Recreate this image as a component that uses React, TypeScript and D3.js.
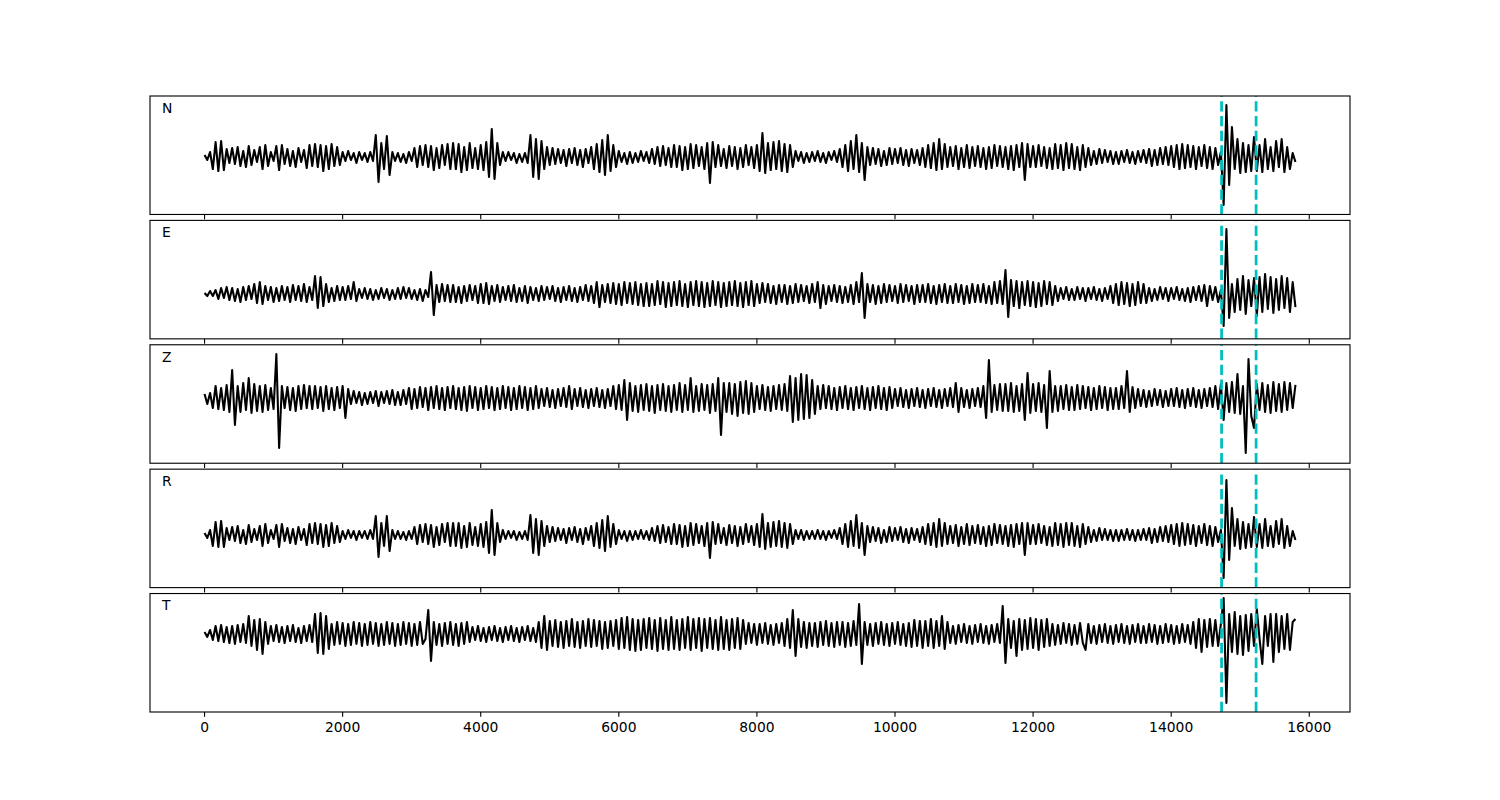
import React from "react";
import * as d3 from "d3";

// ---------------- data ----------------
const componentNames = ["N", "E", "Z", "R", "T"];
const sampleStep = 40; // samples between stored values
const pickTimes = [14730, 15230];
const tickValues = [0, 2000, 4000, 6000, 8000, 10000, 12000, 14000, 16000];
const xDomain = [-790, 16590];
const yHalfRange = 59.2;
const baselines = [-1.8, -14.4, 6, -6.6, 18.8];

const traceN = [
  2,-3,5,-12,15,-14,16,-13,8,-6,
  9,-7,10,-9,6,-10,11,-8,7,-5,
  10,-12,12,-9,5,-4,11,-13,12,-7,
  8,-9,6,-10,9,-5,7,-11,12,-9,
  13,-10,12,-14,11,-12,13,-9,10,-8,
  5,-4,6,-3,4,-6,5,-3,4,-5,
  5,-4,22,-25,14,-12,21,-18,5,-4,
  4,-5,3,-6,5,-4,9,-10,11,-8,
  12,-10,11,-13,9,-11,12,-8,13,-12,
  14,-12,13,-15,10,-13,14,-11,9,-12,
  12,-13,15,-20,28,-22,14,-8,5,-4,
  5,-3,4,-6,3,-5,4,-6,22,-20,
  18,-22,16,-12,10,-8,9,-7,8,-6,
  7,-9,8,-6,9,-8,7,-10,8,-6,
  10,-12,13,-15,17,-18,22,-14,12,-10,
  6,-5,4,-7,5,-6,4,-5,6,-4,
  5,-6,8,-7,10,-9,11,-8,9,-10,
  12,-10,11,-13,10,-12,13,-11,12,-9,
  10,-12,14,-26,15,-10,12,-9,8,-11,
  11,-9,10,-12,9,-10,12,-8,10,-11,
  12,-14,24,-16,14,-13,15,-12,16,-14,
  13,-15,12,-10,6,-4,5,-6,4,-5,
  5,-4,6,-5,4,-6,5,-3,6,-5,
  8,-10,12,-14,16,-12,22,-15,14,-23,
  10,-8,9,-7,8,-9,6,-8,9,-7,
  8,-6,9,-8,7,-9,8,-6,7,-8,
  9,-10,12,-11,14,-13,18,-12,13,-10,
  10,-9,11,-12,9,-10,12,-11,10,-9,
  11,-10,9,-12,10,-11,12,-9,11,-10,
  10,-12,11,-13,12,-10,14,-23,13,-10,
  11,-10,12,-9,10,-11,9,-12,13,-11,
  12,-13,14,-11,13,-12,10,-13,12,-10,
  9,-8,6,-7,8,-6,7,-5,6,-7,
  5,-7,6,-5,7,-6,5,-7,6,-5,
  7,-6,8,-9,7,-8,9,-7,10,-8,
  11,-10,12,-12,13,-11,12,-10,11,-12,
  10,-9,12,-11,10,-12,9,-8,5,-48,
  52,-28,30,-12,18,-16,14,-15,12,-14,
  20,-14,12,-15,18,-12,10,-14,16,-10,
  18,-15,10,-12,4,-5,
];

const traceE = [
  1,-2,3,-2,4,-5,6,-4,7,-6,
  6,-7,5,-8,7,-6,8,-5,10,-9,
  12,-10,8,-6,7,-8,6,-7,8,-6,
  7,-8,9,-6,8,-7,10,-8,7,-6,
  18,-14,17,-12,10,-8,6,-7,8,-6,
  7,-6,8,-5,12,-7,5,-4,6,-5,
  5,-6,4,-5,6,-4,5,-6,4,-5,
  6,-5,7,-4,6,-5,4,-6,5,-7,
  4,-3,22,-21,9,-8,10,-7,9,-8,
  9,-8,7,-9,8,-7,9,-6,8,-9,
  10,-9,11,-10,8,-7,9,-8,7,-6,
  8,-7,9,-8,6,-7,8,-9,7,-6,
  6,-7,8,-6,7,-5,8,-7,6,-8,
  7,-6,8,-7,6,-8,7,-6,9,-7,
  8,-9,12,-13,9,-8,10,-9,11,-10,
  10,-11,12,-9,11,-10,12,-11,10,-12,
  11,-12,10,-11,13,-10,12,-13,11,-12,
  12,-11,13,-12,10,-13,12,-11,13,-12,
  12,-13,11,-12,13,-11,12,-13,11,-12,
  12,-11,13,-12,11,-13,12,-11,13,-12,
  10,-9,11,-8,10,-9,8,-10,9,-8,
  9,-10,8,-9,10,-8,9,-7,8,-9,
  10,-8,12,-14,9,-10,8,-7,9,-8,
  8,-9,7,-8,9,-10,12,-8,21,-24,
  10,-8,9,-10,8,-9,10,-8,9,-7,
  8,-9,10,-8,9,-7,8,-10,9,-8,
  9,-8,10,-9,8,-10,9,-8,10,-9,
  8,-9,10,-8,9,-10,8,-9,10,-8,
  9,-8,10,-9,8,-10,12,-9,13,-10,
  24,-23,14,-12,13,-14,12,-11,13,-12,
  12,-13,11,-12,13,-10,12,-11,8,-7,
  6,-5,7,-6,5,-6,7,-5,6,-7,
  6,-5,7,-6,5,-7,6,-5,8,-9,
  10,-11,12,-10,11,-12,10,-11,12,-9,
  10,-9,6,-7,5,-6,7,-5,6,-7,
  6,-5,7,-6,5,-7,6,-8,7,-6,
  8,-7,9,-12,8,-6,7,-8,4,-32,
  65,-24,10,-18,15,-16,18,-20,14,-12,
  16,-22,17,-18,20,-15,17,-19,15,-16,
  18,-14,16,-18,12,-13,
];

const traceZ = [
  4,-6,5,-10,12,-11,10,-12,13,-14,
  28,-27,12,-14,15,-12,20,-15,14,-13,
  12,-14,13,-12,10,-11,44,-50,12,-10,
  11,-12,10,-13,12,-11,13,-10,12,-11,
  12,-10,11,-13,12,-11,10,-12,11,-10,
  12,-20,9,-6,7,-5,6,-7,5,-6,
  6,-5,7,-8,6,-5,7,-6,8,-7,
  6,-7,8,-6,10,-11,9,-10,11,-9,
  10,-12,11,-10,12,-11,10,-12,11,-10,
  12,-11,10,-12,11,-13,12,-10,11,-12,
  10,-11,12,-10,11,-12,10,-11,12,-10,
  11,-12,10,-11,12,-10,11,-12,10,-11,
  12,-10,9,-8,10,-9,8,-10,9,-8,
  10,-9,12,-11,9,-8,10,-9,8,-10,
  9,-8,10,-9,8,-10,9,-8,12,-11,
  13,-12,18,-22,15,-13,12,-14,13,-12,
  14,-13,12,-15,13,-12,14,-13,12,-14,
  13,-12,15,-14,13,-12,20,-14,12,-13,
  14,-12,13,-15,14,-13,20,-37,15,-14,
  15,-16,14,-18,16,-15,17,-16,15,-14,
  12,-11,13,-12,11,-13,12,-11,13,-12,
  14,-13,22,-24,20,-22,24,-21,23,-20,
  18,-16,12,-11,13,-10,12,-11,10,-12,
  11,-10,12,-11,10,-12,11,-10,12,-11,
  10,-12,11,-10,12,-11,10,-12,11,-10,
  9,-8,10,-9,8,-10,9,-8,10,-9,
  8,-10,9,-8,10,-9,8,-10,9,-8,
  10,-9,15,-14,10,-9,8,-10,9,-8,
  10,-9,12,-20,38,-14,13,-12,14,-13,
  14,-13,15,-14,12,-13,14,-22,25,-15,
  14,-13,15,-14,13,-30,27,-14,12,-13,
  12,-11,13,-12,11,-12,13,-11,12,-10,
  11,-12,10,-11,12,-10,11,-12,10,-11,
  10,-11,12,-10,27,-14,11,-10,9,-8,
  8,-9,7,-8,9,-7,8,-9,7,-8,
  9,-8,10,-9,8,-10,9,-8,10,-9,
  8,-10,9,-8,10,-9,12,-11,14,-22,
  15,-14,16,-15,24,-16,12,-55,39,-18,
  -30,14,-12,15,-14,13,-15,16,-13,14,
  -14,16,-12,15,-10,13,
];

const traceR = [
  2,-3,5,-11,13,-12,14,-12,7,-5,
  8,-6,9,-8,5,-9,10,-7,6,-5,
  9,-11,11,-8,5,-4,10,-12,11,-6,
  7,-8,6,-9,8,-5,6,-10,11,-8,
  12,-9,11,-12,10,-11,12,-8,9,-7,
  4,-4,5,-3,4,-5,4,-3,4,-4,
  5,-4,19,-22,12,-11,19,-16,5,-4,
  4,-4,3,-5,4,-4,8,-9,10,-7,
  11,-9,10,-12,8,-10,11,-7,12,-11,
  12,-11,12,-13,9,-12,12,-10,8,-11,
  11,-12,13,-18,25,-20,12,-7,5,-4,
  4,-3,4,-5,3,-4,4,-5,20,-18,
  16,-20,14,-11,9,-7,8,-6,7,-5,
  6,-8,7,-5,8,-7,6,-9,7,-5,
  9,-11,12,-13,15,-16,19,-12,11,-9,
  5,-4,4,-6,4,-5,4,-4,5,-4,
  4,-5,7,-6,9,-8,10,-7,8,-9,
  11,-9,10,-12,9,-11,12,-10,11,-8,
  9,-11,12,-23,13,-9,11,-8,7,-10,
  10,-8,9,-11,8,-9,11,-7,9,-10,
  11,-12,21,-14,12,-12,13,-11,14,-12,
  12,-13,11,-9,5,-4,5,-5,4,-4,
  4,-4,5,-4,4,-5,4,-3,5,-4,
  7,-9,11,-12,14,-11,20,-13,12,-20,
  9,-7,8,-6,7,-8,5,-7,8,-6,
  7,-5,8,-7,6,-8,7,-5,6,-7,
  8,-9,11,-10,12,-12,16,-11,12,-9,
  9,-8,10,-11,8,-9,11,-10,9,-8,
  10,-9,8,-11,9,-10,11,-8,10,-9,
  9,-11,10,-12,11,-9,12,-20,12,-9,
  10,-9,11,-8,9,-10,8,-11,12,-10,
  11,-12,12,-10,12,-11,9,-12,11,-9,
  8,-7,5,-6,7,-5,6,-5,5,-6,
  5,-6,5,-5,6,-5,5,-6,5,-5,
  6,-5,7,-8,6,-7,8,-6,9,-7,
  10,-9,11,-11,12,-10,11,-9,10,-11,
  9,-8,11,-10,9,-11,8,-7,5,-43,
  55,-25,27,-11,16,-14,13,-13,11,-12,
  18,-12,11,-13,16,-11,9,-12,14,-9,
  16,-13,9,-11,4,-5,
];

const traceT = [
  2,-3,4,-6,8,-7,9,-8,7,-9,
  8,-10,9,-8,10,-9,18,-12,14,-16,
  15,-20,12,-10,8,-7,9,-8,7,-9,
  8,-7,9,-8,6,-9,8,-7,9,-8,
  20,-19,21,-20,18,-15,10,-11,12,-10,
  11,-12,10,-11,12,-10,11,-12,10,-11,
  12,-10,11,-12,10,-11,12,-10,11,-12,
  10,-11,12,-10,11,-12,10,-11,12,-10,
  -5,24,-27,12,-11,10,-12,11,-10,12,
  -11,10,-12,11,-10,12,-8,7,-6,8,
  -7,6,-8,7,-6,8,-7,6,-8,7,
  -6,8,-7,6,-8,7,-6,8,-7,6,
  -8,12,-14,18,-16,13,-12,14,-13,12,
  -14,13,-12,15,-13,12,-14,13,-12,15,
  -13,14,-12,13,-15,12,-14,13,-12,14,
  -15,16,-14,17,-16,15,-17,14,-16,15,
  -14,16,-15,14,-17,16,-15,14,-16,17,
  -15,14,-16,15,-14,17,-16,15,-14,16,
  -17,15,-14,16,-15,14,-16,17,-15,14,
  -16,15,-14,16,-15,14,-10,11,-9,10,
  -11,10,-9,11,-10,9,-11,10,-9,11,
  -12,15,-14,24,-22,15,-13,12,-14,11,
  -12,11,-13,12,-11,13,-12,11,-13,12,
  -11,12,-13,11,-12,13,-11,30,-30,12,
  -11,10,-12,11,-10,12,-11,10,-12,11,
  -10,12,-11,10,-12,11,-13,14,-12,13,
  -14,13,-12,15,-14,13,-12,18,-15,12,
  -9,8,-10,9,-8,10,-9,8,-10,9,
  -8,10,-9,8,-10,9,-8,10,-9,28,
  -29,15,-14,13,-22,15,-16,14,-15,16,
  -14,15,-16,14,-13,15,-12,10,-11,9,
  -10,11,-9,10,-11,9,-10,11,-9,-16,
  10,-9,8,-10,9,-8,10,-9,8,-10,
  9,-8,10,-9,8,-10,9,-8,10,-9,
  8,-9,10,-8,9,-10,8,-9,10,-8,
  9,-10,8,-9,10,-8,9,-10,12,-14,
  15,-18,14,-13,15,-12,14,-12,10,36,
  -69,20,-18,22,-20,18,-21,19,-17,20,
  -12,25,-5,-30,18,-12,20,-28,20,-18,
  18,-15,20,-16,12,15,
];

const traces = [traceN, traceE, traceZ, traceR, traceT];

// ---------------- layout ----------------
const W = 1500;
const H = 800;
const left = 150;
const right = 1350;
const top = 96;
const bottom = 712;
const hspace = 0.05;
const nP = traces.length;
const panelH = (bottom - top) / (nP + (nP - 1) * hspace);
const gap = panelH * hspace;

const FONT = "'DejaVu Sans', sans-serif";

export default function App() {
  const x = d3.scaleLinear().domain(xDomain).range([left, right]);

  return (
    <svg
      width={W}
      height={H}
      style={{ position: "absolute", left: 0, top: 0, background: "#fff" }}
      xmlns="http://www.w3.org/2000/svg"
    >
      <rect x={0} y={0} width={W} height={H} fill="#fff" />
      {traces.map((tr, k) => {
        const pTop = top + k * (panelH + gap);
        const pBot = pTop + panelH;
        const y = d3
          .scaleLinear()
          .domain([-yHalfRange, yHalfRange])
          .range([pBot, pTop]);
        const line = d3
          .line<number>()
          .x((_, i) => x(i * sampleStep))
          .y((v) => y(v + baselines[k]))
          .curve(d3.curveLinear);
        const isLast = k === nP - 1;
        return (
          <g key={k}>
            <clipPath id={`clip${k}`}>
              <rect x={left} y={pTop} width={right - left} height={panelH} />
            </clipPath>
            <g clipPath={`url(#clip${k})`}>
              <path
                d={line(tr) || ""}
                fill="none"
                stroke="#000"
                strokeWidth={2.08}
                strokeLinejoin="round"
                strokeLinecap="butt"
              />
              {pickTimes.map((t, j) => (
                <line
                  key={j}
                  x1={x(t)}
                  x2={x(t)}
                  y1={pBot}
                  y2={pTop}
                  stroke="#00bfbf"
                  strokeWidth={2.78}
                  strokeDasharray="10.3,4.4"
                />
              ))}
            </g>
            <rect
              x={left}
              y={pTop}
              width={right - left}
              height={panelH}
              fill="none"
              stroke="#000"
              strokeWidth={1.11}
            />
            {tickValues.map((t) => (
              <g key={t}>
                <line
                  x1={x(t)}
                  x2={x(t)}
                  y1={pBot}
                  y2={pBot + 4.86}
                  stroke="#000"
                  strokeWidth={1.11}
                />
                {isLast && (
                  <text
                    x={x(t)}
                    y={pBot + 4.86 + 4.86 + 10.3}
                    textAnchor="middle"
                    fontFamily={FONT}
                    fontSize={13.89}
                    fill="#000"
                  >
                    {t}
                  </text>
                )}
              </g>
            ))}
            <text
              x={left + 0.01 * (right - left)}
              y={pTop + 0.1 * panelH + 5.1}
              fontFamily={FONT}
              fontSize={13.89}
              fill="#000"
            >
              {componentNames[k]}
            </text>
          </g>
        );
      })}
    </svg>
  );
}
